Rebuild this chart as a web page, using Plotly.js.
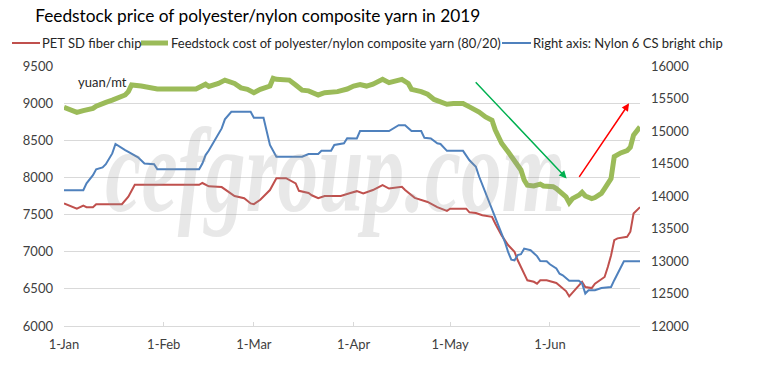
<!DOCTYPE html>
<html>
<head>
<meta charset="utf-8">
<script src="https://cdn.plot.ly/plotly-3.0.1.min.js"></script>
<style>html,body{margin:0;padding:0;background:#fff;}#chart{width:764px;height:368px;}</style>
</head>
<body>
<div id="chart"></div>
<script>
// Day offsets from 1 Jan 2019 and values
const redDays = [0,4,6,7,9,10,18,20,22,42,43,45,49,53,56,58,59,61,64,66,69,72,73,76,77,79,81,86,89,91,93,96,99,101,105,106,109,113,116,119,120,125,126,128,130,133,134,136,138,140,141,142,144,146,147,148,150,153,155,156,157,159,161,162,164,165,168,169,170,171,172,175,176,177,179];
const redVals = [7650,7580,7620,7600,7600,7640,7640,7740,7900,7900,7925,7880,7870,7750,7720,7650,7640,7700,7830,7990,7990,7920,7820,7790,7760,7720,7750,7750,7790,7815,7785,7830,7895,7850,7875,7830,7725,7670,7600,7550,7580,7580,7530,7520,7490,7470,7380,7220,7090,7000,6885,6795,6615,6595,6570,6615,6615,6580,6505,6470,6400,6505,6595,6525,6510,6570,6660,6795,6950,7155,7180,7200,7270,7515,7600];

const greenDays = [0,2,4,6,8,9,10,12,13,15,17,19,20,21,24,26,28,29,41,43,44,45,48,50,53,55,57,59,61,64,65,66,70,72,74,76,79,81,85,88,89,90,92,94,96,99,101,103,105,107,108,111,113,115,117,119,121,124,126,127,129,131,133,134,136,138,140,142,143,144,146,148,149,152,153,155,156,157,158,160,161,162,164,165,167,168,170,171,173,175,176,177,179];
const greenVals = [8945,8915,8875,8900,8915,8930,8960,9000,9010,9040,9075,9110,9155,9245,9230,9220,9210,9190,9190,9230,9255,9225,9265,9310,9265,9205,9185,9140,9185,9230,9335,9320,9310,9245,9175,9165,9110,9140,9155,9190,9220,9230,9250,9230,9255,9320,9275,9300,9320,9265,9185,9155,9120,9050,9020,8985,8995,8995,8950,8930,8880,8815,8770,8640,8460,8345,8235,8100,7965,7895,7885,7910,7885,7875,7850,7785,7740,7660,7715,7760,7800,7750,7715,7730,7785,7850,7985,8280,8330,8360,8405,8570,8680];

const blueDays = [0,6,7,9,10,12,13,15,16,18,19,20,22,23,25,27,28,29,42,43,44,45,47,49,50,52,58,59,62,63,64,66,74,76,79,80,83,84,87,88,91,92,101,104,106,108,111,112,114,116,117,119,124,126,128,129,131,133,135,137,138,139,140,141,142,143,145,146,147,148,150,151,153,154,155,157,160,161,162,163,165,167,170,171,172,173,174,179];
const blueVals = [14090,14090,14195,14320,14410,14440,14490,14655,14800,14730,14705,14680,14615,14595,14500,14500,14490,14410,14410,14500,14630,14700,14870,15040,15180,15295,15295,15205,15205,15015,14785,14605,14605,14645,14645,14695,14695,14785,14810,14890,14885,15000,15000,15090,15090,15000,15000,14895,14885,14810,14800,14695,14695,14550,14450,14300,14050,13780,13525,13295,13140,13020,13010,13090,13105,13190,13165,13125,13075,13000,12995,12950,12885,12805,12780,12695,12695,12655,12500,12550,12550,12585,12600,12705,12805,12910,12995,12995];

const seriesNames = ["PET SD fiber chip", "Feedstock cost of polyester/nylon composite yarn (80/20)", "Right axis: Nylon 6 CS bright chip"];
const seriesColors = ['#C0504D', '#9BBB59', '#4F81BD'];
const seriesWidths = [2, 5, 2];
const titleText = "Feedstock price of polyester/nylon composite yarn in 2019";
const unitLabel = "yuan/mt";
const watermark = "cefgroup.com";

function toDate(d) {
  const t = new Date(Date.UTC(2019, 0, 1) + d * 86400000);
  return t.toISOString().slice(0, 19).replace('T', ' ');
}

const traces = [
  {x: redDays.map(toDate), y: redVals, name: seriesNames[0], type: 'scatter', mode: 'lines',
   line: {color: seriesColors[0], width: seriesWidths[0]}, yaxis: 'y'},
  {x: greenDays.map(toDate), y: greenVals, name: seriesNames[1], type: 'scatter', mode: 'lines',
   line: {color: seriesColors[1], width: seriesWidths[1]}, yaxis: 'y'},
  {x: blueDays.map(toDate), y: blueVals, name: seriesNames[2], type: 'scatter', mode: 'lines',
   line: {color: seriesColors[2], width: seriesWidths[2]}, yaxis: 'y2'}
];

const tickFont = {family: 'Lato, sans-serif', size: 13, color: '#404040'};
const legendFont = {family: 'Lato, sans-serif', size: 13, color: '#262626'};

// legend layout (pixel positions in the figure), converted to paper coordinates
const W = 764, H = 368, M = {l: 64, r: 124, t: 66, b: 42};
const PW = W - M.l - M.r, PH = H - M.t - M.b;
const px = v => (v - M.l) / PW;
const py = v => (H - M.b - v) / PH;
const legendY = 43;
const legendSymbols = [[12, 40], [141, 168], [502, 531]];
const legendTextX = [40, 169, 531];

const shapes = legendSymbols.map((s, i) => ({
  type: 'line', xref: 'paper', yref: 'paper', x0: px(s[0]), x1: px(s[1]), y0: py(legendY), y1: py(legendY),
  line: {color: seriesColors[i], width: seriesWidths[i]}
}));

const legendAnns = seriesNames.map((n, i) => ({
  text: n, xref: 'paper', yref: 'paper', x: px(legendTextX[i]), y: py(legendY), xanchor: 'left', yanchor: 'middle',
  showarrow: false, font: legendFont
}));

const layout = {
  width: W, height: H,
  margin: M,
  paper_bgcolor: '#ffffff', plot_bgcolor: '#ffffff',
  font: {family: 'Lato, sans-serif', color: '#262626'},
  title: {text: titleText, x: 0.046, xanchor: 'left', xref: 'container', y: 0.956, yanchor: 'middle',
          font: {family: 'Lato, sans-serif', size: 17.3, color: '#000000'}},
  showlegend: false,
  xaxis: {type: 'date', range: [toDate(0), toDate(179)], dtick: 'M1', tick0: '2019-01-01',
          tickformat: '%-d-%b', showgrid: false, zeroline: false, showline: true, linecolor: '#d9d9d9',
          ticks: 'inside', ticklen: 4, tickcolor: '#d9d9d9', tickfont: tickFont, ticklabelstandoff: 6},
  yaxis: {range: [6000, 9500], dtick: 500, tickformat: 'd', showgrid: true, gridcolor: '#d9d9d9', gridwidth: 1,
          zeroline: false, showline: false, ticks: '', tickfont: tickFont, ticklabelstandoff: 10},
  yaxis2: {range: [12000, 16000], dtick: 500, tickformat: 'd', overlaying: 'y', side: 'right', showgrid: false,
           zeroline: false, showline: false, ticks: '', tickfont: tickFont, ticklabelstandoff: 10},
  shapes: shapes,
  annotations: legendAnns.concat([
    {text: unitLabel, xref: 'paper', yref: 'paper', x: px(76), y: py(82), xanchor: 'left', yanchor: 'middle',
     showarrow: false, font: {family: 'Lato, sans-serif', size: 13, color: '#262626'}},
    {text: '<b><i>' + watermark + '</i></b>', xref: 'paper', yref: 'paper', x: 0.472, y: 0.6,
     xanchor: 'center', yanchor: 'middle', showarrow: false,
     font: {family: 'Liberation Serif, serif', size: 120, color: 'rgba(150,150,150,0.22)'}},
    {text: '', x: toDate(156.2), y: 7987, ax: toDate(127.5), ay: 9302, xref: 'x', yref: 'y', axref: 'x', ayref: 'y',
     showarrow: true, arrowhead: 2, arrowsize: 1, arrowwidth: 1.5, arrowcolor: '#00B050', standoff: 0},
    {text: '', x: toDate(175.6), y: 8997, ax: toDate(159.8), ay: 7987, xref: 'x', yref: 'y', axref: 'x', ayref: 'y',
     showarrow: true, arrowhead: 2, arrowsize: 1, arrowwidth: 1.5, arrowcolor: '#FF0000', standoff: 0}
  ])
};

Plotly.newPlot('chart', traces, layout, {displayModeBar: false, staticPlot: true}).then(function () {
  document.querySelectorAll('.annotation-text').forEach(function (t) {
    if (t.textContent === watermark) {
      t.style.transformBox = 'fill-box';
      t.style.transformOrigin = 'center';
      t.style.transform = 'scaleX(0.68)';
    }
  });
});
</script>
</body>
</html>
